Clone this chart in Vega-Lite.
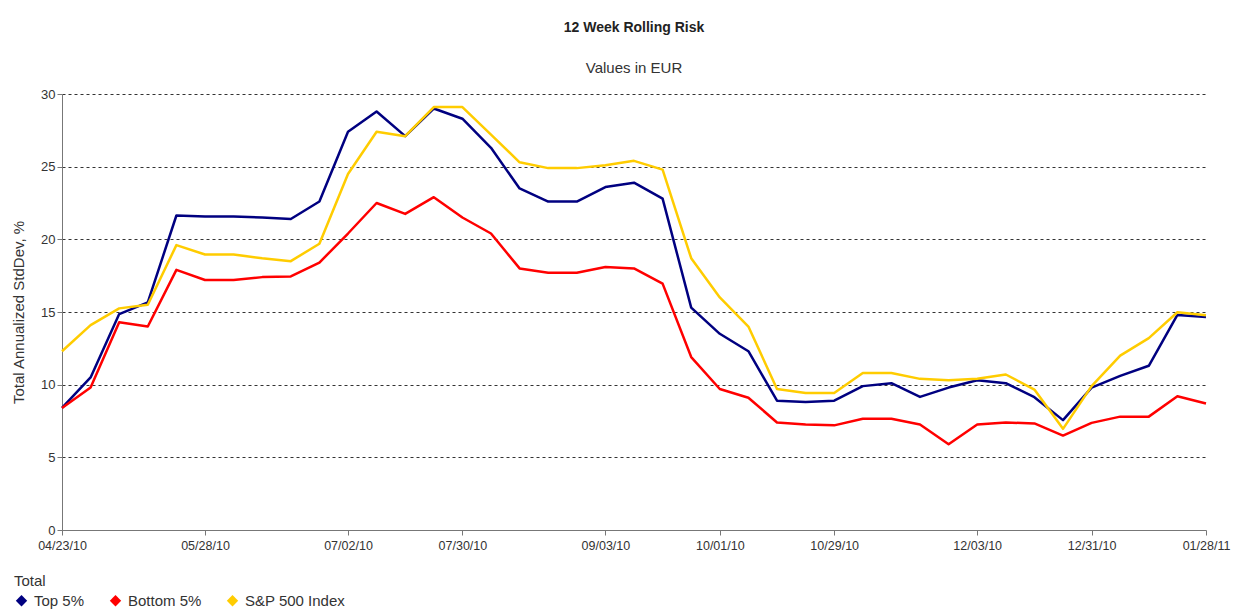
{
  "$schema": "https://vega.github.io/schema/vega-lite/v6.json",
  "width": 1144,
  "height": 436,
  "autosize": {"type": "none"},
  "padding": {"left": 62, "top": 94, "right": 46, "bottom": 84},
  "background": "white",
  "title": {
    "text": "12 Week Rolling Risk",
    "subtitle": "Values in EUR",
    "anchor": "middle",
    "font": "Liberation Sans",
    "fontSize": 14,
    "fontWeight": "bold",
    "color": "#222",
    "subtitleFont": "Liberation Sans",
    "subtitleFontSize": 15,
    "subtitleColor": "#333",
    "offset": 12,
    "subtitlePadding": 26
  },
  "data": {
    "values": [
      {"date": "2010-04-23", "series": "Top 5%", "value": 8.4},
      {"date": "2010-04-30", "series": "Top 5%", "value": 10.5},
      {"date": "2010-05-07", "series": "Top 5%", "value": 14.86},
      {"date": "2010-05-14", "series": "Top 5%", "value": 15.66},
      {"date": "2010-05-21", "series": "Top 5%", "value": 21.64},
      {"date": "2010-05-28", "series": "Top 5%", "value": 21.57},
      {"date": "2010-06-04", "series": "Top 5%", "value": 21.57},
      {"date": "2010-06-11", "series": "Top 5%", "value": 21.5},
      {"date": "2010-06-18", "series": "Top 5%", "value": 21.4},
      {"date": "2010-06-25", "series": "Top 5%", "value": 22.6},
      {"date": "2010-07-02", "series": "Top 5%", "value": 27.4},
      {"date": "2010-07-09", "series": "Top 5%", "value": 28.8},
      {"date": "2010-07-16", "series": "Top 5%", "value": 27.1},
      {"date": "2010-07-23", "series": "Top 5%", "value": 29.0},
      {"date": "2010-07-30", "series": "Top 5%", "value": 28.3},
      {"date": "2010-08-06", "series": "Top 5%", "value": 26.3},
      {"date": "2010-08-13", "series": "Top 5%", "value": 23.5},
      {"date": "2010-08-20", "series": "Top 5%", "value": 22.6},
      {"date": "2010-08-27", "series": "Top 5%", "value": 22.6},
      {"date": "2010-09-03", "series": "Top 5%", "value": 23.6},
      {"date": "2010-09-10", "series": "Top 5%", "value": 23.9},
      {"date": "2010-09-17", "series": "Top 5%", "value": 22.8},
      {"date": "2010-09-24", "series": "Top 5%", "value": 15.3},
      {"date": "2010-10-01", "series": "Top 5%", "value": 13.5},
      {"date": "2010-10-08", "series": "Top 5%", "value": 12.3},
      {"date": "2010-10-15", "series": "Top 5%", "value": 8.9},
      {"date": "2010-10-22", "series": "Top 5%", "value": 8.8},
      {"date": "2010-10-29", "series": "Top 5%", "value": 8.9},
      {"date": "2010-11-05", "series": "Top 5%", "value": 9.9},
      {"date": "2010-11-12", "series": "Top 5%", "value": 10.1},
      {"date": "2010-11-19", "series": "Top 5%", "value": 9.16},
      {"date": "2010-11-26", "series": "Top 5%", "value": 9.8},
      {"date": "2010-12-03", "series": "Top 5%", "value": 10.3},
      {"date": "2010-12-10", "series": "Top 5%", "value": 10.1},
      {"date": "2010-12-17", "series": "Top 5%", "value": 9.14},
      {"date": "2010-12-24", "series": "Top 5%", "value": 7.56},
      {"date": "2010-12-31", "series": "Top 5%", "value": 9.8},
      {"date": "2011-01-07", "series": "Top 5%", "value": 10.6},
      {"date": "2011-01-14", "series": "Top 5%", "value": 11.3},
      {"date": "2011-01-21", "series": "Top 5%", "value": 14.8},
      {"date": "2011-01-28", "series": "Top 5%", "value": 14.65},
      {"date": "2010-04-23", "series": "Bottom 5%", "value": 8.4},
      {"date": "2010-04-30", "series": "Bottom 5%", "value": 9.8},
      {"date": "2010-05-07", "series": "Bottom 5%", "value": 14.3},
      {"date": "2010-05-14", "series": "Bottom 5%", "value": 14.0},
      {"date": "2010-05-21", "series": "Bottom 5%", "value": 17.9},
      {"date": "2010-05-28", "series": "Bottom 5%", "value": 17.2},
      {"date": "2010-06-04", "series": "Bottom 5%", "value": 17.2},
      {"date": "2010-06-11", "series": "Bottom 5%", "value": 17.4},
      {"date": "2010-06-18", "series": "Bottom 5%", "value": 17.45},
      {"date": "2010-06-25", "series": "Bottom 5%", "value": 18.4},
      {"date": "2010-07-02", "series": "Bottom 5%", "value": 20.4},
      {"date": "2010-07-09", "series": "Bottom 5%", "value": 22.5},
      {"date": "2010-07-16", "series": "Bottom 5%", "value": 21.75},
      {"date": "2010-07-23", "series": "Bottom 5%", "value": 22.9},
      {"date": "2010-07-30", "series": "Bottom 5%", "value": 21.5},
      {"date": "2010-08-06", "series": "Bottom 5%", "value": 20.4},
      {"date": "2010-08-13", "series": "Bottom 5%", "value": 18.0},
      {"date": "2010-08-20", "series": "Bottom 5%", "value": 17.7},
      {"date": "2010-08-27", "series": "Bottom 5%", "value": 17.7},
      {"date": "2010-09-03", "series": "Bottom 5%", "value": 18.1},
      {"date": "2010-09-10", "series": "Bottom 5%", "value": 18.0},
      {"date": "2010-09-17", "series": "Bottom 5%", "value": 16.95},
      {"date": "2010-09-24", "series": "Bottom 5%", "value": 11.9},
      {"date": "2010-10-01", "series": "Bottom 5%", "value": 9.7},
      {"date": "2010-10-08", "series": "Bottom 5%", "value": 9.1},
      {"date": "2010-10-15", "series": "Bottom 5%", "value": 7.4},
      {"date": "2010-10-22", "series": "Bottom 5%", "value": 7.26},
      {"date": "2010-10-29", "series": "Bottom 5%", "value": 7.2},
      {"date": "2010-11-05", "series": "Bottom 5%", "value": 7.65},
      {"date": "2010-11-12", "series": "Bottom 5%", "value": 7.65},
      {"date": "2010-11-19", "series": "Bottom 5%", "value": 7.26},
      {"date": "2010-11-26", "series": "Bottom 5%", "value": 5.9},
      {"date": "2010-12-03", "series": "Bottom 5%", "value": 7.26},
      {"date": "2010-12-10", "series": "Bottom 5%", "value": 7.4},
      {"date": "2010-12-17", "series": "Bottom 5%", "value": 7.33},
      {"date": "2010-12-24", "series": "Bottom 5%", "value": 6.5},
      {"date": "2010-12-31", "series": "Bottom 5%", "value": 7.37},
      {"date": "2011-01-07", "series": "Bottom 5%", "value": 7.8},
      {"date": "2011-01-14", "series": "Bottom 5%", "value": 7.8},
      {"date": "2011-01-21", "series": "Bottom 5%", "value": 9.2},
      {"date": "2011-01-28", "series": "Bottom 5%", "value": 8.7},
      {"date": "2010-04-23", "series": "S&P 500 Index", "value": 12.3},
      {"date": "2010-04-30", "series": "S&P 500 Index", "value": 14.1},
      {"date": "2010-05-07", "series": "S&P 500 Index", "value": 15.25},
      {"date": "2010-05-14", "series": "S&P 500 Index", "value": 15.5},
      {"date": "2010-05-21", "series": "S&P 500 Index", "value": 19.6},
      {"date": "2010-05-28", "series": "S&P 500 Index", "value": 18.96},
      {"date": "2010-06-04", "series": "S&P 500 Index", "value": 18.96},
      {"date": "2010-06-11", "series": "S&P 500 Index", "value": 18.7},
      {"date": "2010-06-18", "series": "S&P 500 Index", "value": 18.5},
      {"date": "2010-06-25", "series": "S&P 500 Index", "value": 19.7},
      {"date": "2010-07-02", "series": "S&P 500 Index", "value": 24.5},
      {"date": "2010-07-09", "series": "S&P 500 Index", "value": 27.4},
      {"date": "2010-07-16", "series": "S&P 500 Index", "value": 27.1},
      {"date": "2010-07-23", "series": "S&P 500 Index", "value": 29.1},
      {"date": "2010-07-30", "series": "S&P 500 Index", "value": 29.1},
      {"date": "2010-08-06", "series": "S&P 500 Index", "value": 27.2},
      {"date": "2010-08-13", "series": "S&P 500 Index", "value": 25.3},
      {"date": "2010-08-20", "series": "S&P 500 Index", "value": 24.9},
      {"date": "2010-08-27", "series": "S&P 500 Index", "value": 24.9},
      {"date": "2010-09-03", "series": "S&P 500 Index", "value": 25.1},
      {"date": "2010-09-10", "series": "S&P 500 Index", "value": 25.4},
      {"date": "2010-09-17", "series": "S&P 500 Index", "value": 24.8},
      {"date": "2010-09-24", "series": "S&P 500 Index", "value": 18.7},
      {"date": "2010-10-01", "series": "S&P 500 Index", "value": 16.0},
      {"date": "2010-10-08", "series": "S&P 500 Index", "value": 14.0},
      {"date": "2010-10-15", "series": "S&P 500 Index", "value": 9.7},
      {"date": "2010-10-22", "series": "S&P 500 Index", "value": 9.43},
      {"date": "2010-10-29", "series": "S&P 500 Index", "value": 9.43},
      {"date": "2010-11-05", "series": "S&P 500 Index", "value": 10.8},
      {"date": "2010-11-12", "series": "S&P 500 Index", "value": 10.8},
      {"date": "2010-11-19", "series": "S&P 500 Index", "value": 10.4},
      {"date": "2010-11-26", "series": "S&P 500 Index", "value": 10.3},
      {"date": "2010-12-03", "series": "S&P 500 Index", "value": 10.4},
      {"date": "2010-12-10", "series": "S&P 500 Index", "value": 10.7},
      {"date": "2010-12-17", "series": "S&P 500 Index", "value": 9.66},
      {"date": "2010-12-24", "series": "S&P 500 Index", "value": 6.96},
      {"date": "2010-12-31", "series": "S&P 500 Index", "value": 9.9},
      {"date": "2011-01-07", "series": "S&P 500 Index", "value": 12.0},
      {"date": "2011-01-14", "series": "S&P 500 Index", "value": 13.2},
      {"date": "2011-01-21", "series": "S&P 500 Index", "value": 14.98},
      {"date": "2011-01-28", "series": "S&P 500 Index", "value": 14.77}
    ]
  },
  "mark": {"type": "line", "strokeWidth": 2.5, "strokeJoin": "round"},
  "encoding": {
    "x": {
      "field": "date",
      "type": "temporal",
      "scale": {
        "type": "utc",
        "nice": false,
        "domain": [
          {"year": 2010, "month": 4, "date": 23, "utc": true},
          {"year": 2011, "month": 1, "date": 28, "utc": true}
        ]
      },
      "axis": {
        "title": null,
        "format": "%m/%d/%y",
        "values": [
          {"year": 2010, "month": 4, "date": 23, "utc": true},
          {"year": 2010, "month": 5, "date": 28, "utc": true},
          {"year": 2010, "month": 7, "date": 2, "utc": true},
          {"year": 2010, "month": 7, "date": 30, "utc": true},
          {"year": 2010, "month": 9, "date": 3, "utc": true},
          {"year": 2010, "month": 10, "date": 1, "utc": true},
          {"year": 2010, "month": 10, "date": 29, "utc": true},
          {"year": 2010, "month": 12, "date": 3, "utc": true},
          {"year": 2010, "month": 12, "date": 31, "utc": true},
          {"year": 2011, "month": 1, "date": 28, "utc": true}
        ],
        "grid": false,
        "domainColor": "#777",
        "tickColor": "#777",
        "tickSize": 5,
        "labelFont": "Liberation Sans",
        "labelFontSize": 12.5,
        "labelColor": "#333",
        "labelPadding": 4,
        "labelOverlap": false,
        "labelFlush": false
      }
    },
    "y": {
      "field": "value",
      "type": "quantitative",
      "scale": {"domain": [0, 30], "nice": false, "zero": true},
      "axis": {
        "title": "Total Annualized StdDev, %",
        "titleFont": "Liberation Sans",
        "titleFontSize": 15,
        "titleFontWeight": "normal",
        "titleColor": "#333",
        "titlePadding": 14,
        "values": [0, 5, 10, 15, 20, 25, 30],
        "grid": true,
        "gridColor": "#333",
        "gridDash": [3, 3],
        "gridWidth": 1,
        "domainColor": "#777",
        "tickColor": "#777",
        "tickSize": 5,
        "labelFont": "Liberation Sans",
        "labelFontSize": 13,
        "labelColor": "#333",
        "labelPadding": 2
      }
    },
    "color": {
      "field": "series",
      "type": "nominal",
      "sort": ["Top 5%", "Bottom 5%", "S&P 500 Index"],
      "scale": {
        "domain": ["Top 5%", "Bottom 5%", "S&P 500 Index"],
        "range": ["#000080", "#FF0000", "#FFCC00"]
      },
      "legend": {
        "orient": "none",
        "legendX": -48,
        "legendY": 480,
        "direction": "horizontal",
        "title": "Total",
        "titleFont": "Liberation Sans",
        "titleFontSize": 15,
        "titleFontWeight": "normal",
        "titleColor": "#333",
        "titlePadding": 4,
        "symbolType": "diamond",
        "symbolSize": 130,
        "symbolStrokeWidth": 0,
        "labelFont": "Liberation Sans",
        "labelFontSize": 15,
        "labelColor": "#333",
        "labelOffset": 5,
        "columnPadding": 23,
        "encode": {
          "symbols": {"update": {"fill": {"scale": "color", "field": "value"}}}
        }
      }
    }
  },
  "config": {"view": {"stroke": null}}
}
